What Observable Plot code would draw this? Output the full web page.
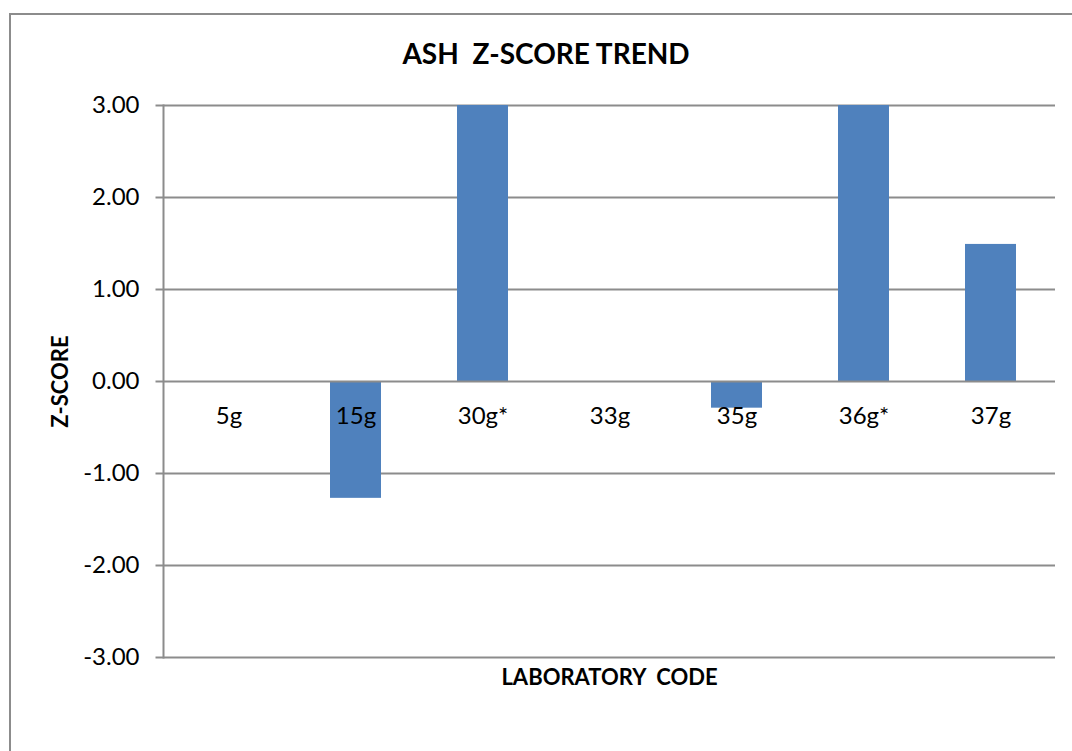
<!DOCTYPE html>
<html><head><meta charset="utf-8">
<script src="https://cdn.jsdelivr.net/npm/d3@7"></script>
<script src="https://cdn.jsdelivr.net/npm/@observablehq/plot@0.6"></script>
<style>
body{margin:0;background:#fff;overflow:hidden}
#wrap{position:relative;width:1072px;height:751px;overflow:hidden}
#border{position:absolute;left:9px;top:13px;width:1200px;height:900px;border-left:2px solid #8c8c8c;border-top:2px solid #8c8c8c}
#chart{position:absolute;left:0;top:0}
</style></head><body><div id="wrap"><div id="border"></div><div id="chart"></div></div>
<script>
const codes = ["5g","15g","30g*","33g","35g","36g*","37g"];
const zScores = [0, -1.27, 3.0, 0, -0.29, 3.0, 1.49];
const yTicks = [-3,-2,-1,0,1,2,3];
const title = "ASH  Z-SCORE TREND";
const xTitle = "LABORATORY  CODE";
const yTitle = "Z-SCORE";

const data = codes.map((c,i)=>({code:c, z:zScores[i]}));
const grid = "#8c8c8c";
const chart = Plot.plot({
  width:1072, height:751, marginLeft:163, marginRight:17, marginTop:105, marginBottom:94,
  style:{fontFamily:"Lato, 'Open Sans', sans-serif", background:"transparent", color:"#000"},
  x:{domain:codes, paddingInner:0.6, paddingOuter:0.3, axis:null},
  y:{domain:[-3,3], axis:null},
  marks:[
    Plot.ruleY(yTicks.filter(t=>t!==0), {stroke:grid, strokeWidth:2}),
    Plot.barY(data,{x:"code", y:"z", fill:"#4F81BD"}),
    Plot.ruleY([0], {stroke:grid, strokeWidth:2}),
    Plot.axisY({ticks:yTicks, tickSize:7.5, tickPadding:16.5, tickFormat:d=>d.toFixed(2), fontSize:24, stroke:grid, strokeWidth:2, fill:"#000", label:null}),
    Plot.frame({anchor:"left", stroke:grid, strokeWidth:2}),
    Plot.text(data,{x:"code", y:()=>0, text:"code", dy:35, fontSize:24, fill:"#000"}),
    Plot.text([title], {frameAnchor:"top", lineAnchor:"middle", textAnchor:"middle", text:d=>d, dx:-63.5, dy:-50, fontSize:28, fontWeight:"bold", fill:"#000"}),
    Plot.text([xTitle], {frameAnchor:"bottom", lineAnchor:"middle", textAnchor:"middle", text:d=>d, dy:20.5, fontSize:22, fontWeight:"bold", fill:"#000"}),
    Plot.text([yTitle], {frameAnchor:"left", lineAnchor:"middle", textAnchor:"middle", text:d=>d, rotate:-90, dx:-103, fontSize:22, fontWeight:"bold", fill:"#000"})
  ]
});
document.getElementById("chart").appendChild(chart);
</script>
</body></html>
